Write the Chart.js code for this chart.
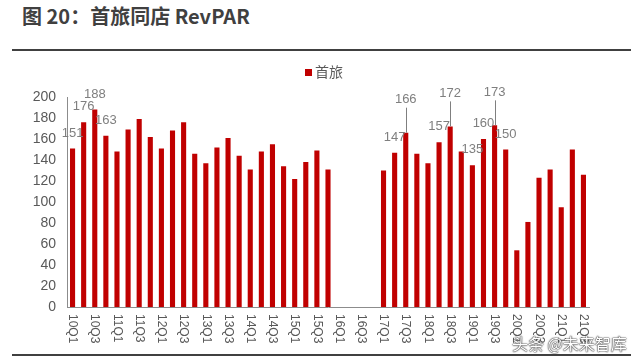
<!DOCTYPE html>
<html lang="zh">
<head>
    <meta charset="UTF-8">
    <title>首旅同店 RevPAR</title>
    <script src="https://cdn.jsdelivr.net/npm/chart.js"></script>
    <style>
        body { margin: 0; width: 640px; height: 362px; background: #fff; position: relative; overflow: hidden; font-family: "Noto Sans CJK SC", Arial, sans-serif; }
        #title { position: absolute; left: 22px; top: 4px; font-size: 20px; font-weight: bold; color: #404040; line-height: 24px; white-space: nowrap; }
        .rule { position: absolute; left: 12px; width: 619px; height: 2px; background: #404040; }
        #mark { position: absolute; left: 512px; top: 331px; font-size: 16px; color: #fff; text-shadow: 0 0 1px #333, 0 0 1px #333, 0 0 2px #555; white-space: nowrap; }
        #wrap { position: absolute; left: 0; top: 0; width: 640px; height: 362px; }
    </style>
</head>
<body>
    <div id="title">图 20：首旅同店 RevPAR</div>
    <div class="rule" style="top:49px"></div>
    <div class="rule" style="top:354px"></div>
    <div id="wrap"><canvas id="chart" width="640" height="362"></canvas></div>
    <div id="mark">头条 @未来智库</div>

    <script>
        // 季度
        const quarters = [
            '10Q1','10Q2','10Q3','10Q4','11Q1','11Q2','11Q3','11Q4',
            '12Q1','12Q2','12Q3','12Q4','13Q1','13Q2','13Q3','13Q4',
            '14Q1','14Q2','14Q3','14Q4','15Q1','15Q2','15Q3','15Q4',
            '16Q1','16Q2','16Q3','16Q4','17Q1','17Q2','17Q3','17Q4',
            '18Q1','18Q2','18Q3','18Q4','19Q1','19Q2','19Q3','19Q4',
            '20Q1','20Q2','20Q3','20Q4','21Q1','21Q2','21Q3'
        ];
        // 首旅同店 RevPAR（元）
        const revpar = [
            151, 176, 188, 163, 148, 169, 179, 162,
            151, 168, 176, 146, 137, 152, 161, 144,
            131, 148, 155, 134, 122, 138, 149, 131,
            null, null, null, null, 130, 147, 166, 146,
            137, 157, 172, 148, 135, 160, 173, 150,
            54, 81, 123, 131, 95, 150, 126
        ];
        const yTicks = [0, 20, 40, 60, 80, 100, 120, 140, 160, 180, 200];
        // 标注数值的柱子，以及带引线的
        const labelled = ['10Q1','10Q2','10Q3','10Q4','17Q2','17Q3','18Q2','18Q3','19Q1','19Q2','19Q3','19Q4'];
        const withLeader = ['17Q3','18Q3','19Q3'];

        const barRed = '#c00000';
        const gray = '#595959';

        const extras = {
            id: 'extras',
            afterDraw(chart) {
                const ctx = chart.ctx;
                const xs = chart.scales.x;
                const bars = chart.getDatasetMeta(0).data;
                ctx.save();

                // 数据标签
                ctx.font = '13px Arial, "Liberation Sans", sans-serif';
                ctx.fillStyle = '#7f7f7f';
                ctx.strokeStyle = '#7f7f7f';
                ctx.lineWidth = 1;
                ctx.textAlign = 'center';
                ctx.textBaseline = 'middle';
                labelled.forEach(q => {
                    const i = quarters.indexOf(q);
                    const bar = bars[i];
                    const leader = withLeader.includes(q);
                    const ly = bar.y - (leader ? 33 : 15.5);
                    ctx.fillText(String(revpar[i]), bar.x, ly);
                    if (leader) {
                        ctx.beginPath();
                        ctx.moveTo(Math.round(bar.x) + 0.5, ly + 8);
                        ctx.lineTo(Math.round(bar.x) + 0.5, bar.y);
                        ctx.stroke();
                    }
                });

                // 横轴标签（竖排，隔一个显示）
                ctx.font = '12px Arial, "Liberation Sans", sans-serif';
                ctx.fillStyle = gray;
                ctx.textAlign = 'left';
                ctx.textBaseline = 'middle';
                quarters.forEach((q, i) => {
                    if (i % 2) return;
                    ctx.save();
                    ctx.translate(xs.getPixelForValue(i), 314);
                    ctx.rotate(Math.PI / 2);
                    ctx.fillText(q, 0, 0);
                    ctx.restore();
                });

                // 图例
                ctx.fillStyle = barRed;
                ctx.fillRect(305, 69, 7, 7);
                ctx.font = '14px "Noto Sans CJK SC", sans-serif';
                ctx.fillStyle = gray;
                ctx.textBaseline = 'middle';
                ctx.fillText('首旅', 315, 72);
                ctx.restore();
            }
        };

        new Chart(document.getElementById('chart'), {
            type: 'bar',
            data: {
                labels: quarters,
                datasets: [{
                    label: '首旅',
                    data: revpar,
                    backgroundColor: barRed,
                    barPercentage: 0.46,
                    categoryPercentage: 1
                }]
            },
            options: {
                responsive: false,
                animation: false,
                layout: { padding: { left: 0, right: 51, top: 97, bottom: 0 } },
                plugins: {
                    legend: { display: false },
                    title: { display: false },
                    tooltip: { enabled: false }
                },
                scales: {
                    x: {
                        grid: { display: false, drawTicks: false },
                        border: { display: true, color: '#8c8c8c', width: 1 },
                        ticks: { display: false },
                        afterFit(scale) { scale.height = 55; }
                    },
                    y: {
                        min: 0,
                        max: 200,
                        grid: { display: false, drawTicks: false },
                        border: { display: true, color: '#8c8c8c', width: 1 },
                        afterBuildTicks(scale) { scale.ticks = yTicks.map(v => ({ value: v })); },
                        ticks: {
                            padding: 11,
                            color: gray,
                            font: { family: 'Arial, "Liberation Sans", sans-serif', size: 14 }
                        },
                        afterFit(scale) { scale.width = 67; }
                    }
                }
            },
            plugins: [extras]
        });
    </script>
</body>
</html>
